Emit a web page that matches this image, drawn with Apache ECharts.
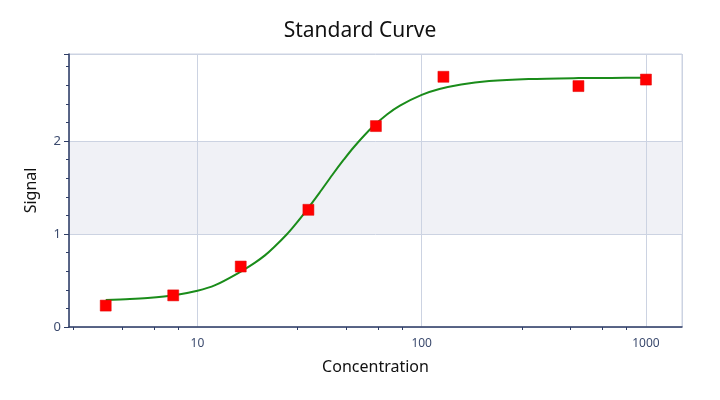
<!DOCTYPE html>
<html>
<head>
<meta charset="utf-8">
<script src="https://cdn.jsdelivr.net/npm/echarts@6/dist/echarts.min.js"></script>
<style>html,body{margin:0;padding:0;background:#fff}#c{width:720px;height:400px}</style>
</head>
<body>
<div id="c"></div>
<script>
var titleText = 'Standard Curve';
var xName = 'Concentration';
var yName = 'Signal';
// measured standards
var concentrations = [3.9, 7.8, 15.6, 31.25, 62.5, 125, 500, 1000];
var signals = [0.23, 0.34, 0.65, 1.26, 2.16, 2.69, 2.59, 2.66];
// fitted curve
var curveX = [3.9, 5, 6, 8, 10, 12, 15, 18, 20, 22, 25, 27, 30, 35, 40, 45, 50, 60, 70, 80, 100, 120, 150, 200, 300, 500, 700, 1000];
var curveY = [0.291, 0.300, 0.312, 0.345, 0.390, 0.450, 0.572, 0.690, 0.770, 0.860, 0.995, 1.088, 1.225, 1.442, 1.637, 1.801, 1.938, 2.144, 2.284, 2.380, 2.495, 2.558, 2.608, 2.644, 2.666, 2.676, 2.678, 2.679];

var pts = concentrations.map(function (c, i) { return [c, signals[i]]; });
var curve = curveX.map(function (c, i) { return [c, curveY[i]]; });

var axisCol = '#2e3d66';
var labCol = '#3b4a6e';
var gridCol = '#ccd3e2';

var chart = echarts.init(document.getElementById('c'), null, {renderer: 'canvas'});
chart.setOption({
  animation: false,
  title: {
    text: titleText, left: 'center', top: 16,
    textStyle: {fontFamily: 'Noto Sans', fontSize: 21, fontWeight: 'normal', color: '#111'}
  },
  grid: {left: 69, right: 38, top: 54, bottom: 73, show: true, borderColor: gridCol, borderWidth: 1},
  xAxis: {
    type: 'log', logBase: 10, min: 2.675, max: 1448,
    name: xName, nameLocation: 'middle', nameGap: 32,
    nameTextStyle: {fontFamily: 'Noto Sans', fontSize: 16, color: '#111'},
    axisLine: {show: true, onZero: false, lineStyle: {color: axisCol, width: 1.5}},
    axisTick: {show: false},
    minorTick: {show: true, splitNumber: 5, length: 3, lineStyle: {color: axisCol}},
    axisLabel: {color: labCol, fontFamily: 'Noto Sans', fontSize: 12, margin: 11,
      showMinLabel: false, showMaxLabel: false,
      formatter: function (v) { return String(Math.round(v)); }},
    splitLine: {show: true, lineStyle: {color: gridCol, width: 1}}
  },
  yAxis: {
    type: 'value', min: 0, max: 2.935, interval: 1,
    name: yName, nameLocation: 'middle', nameGap: 30, nameRotate: 90,
    nameTextStyle: {fontFamily: 'Noto Sans', fontSize: 16, color: '#111'},
    axisLine: {show: true, lineStyle: {color: axisCol, width: 1.5}},
    axisTick: {show: true, length: 5, lineStyle: {color: axisCol}},
    minorTick: {show: true, splitNumber: 5, length: 3, lineStyle: {color: axisCol}},
    axisLabel: {color: labCol, fontFamily: 'Noto Sans', fontSize: 13, margin: 8, showMaxLabel: false},
    splitLine: {show: true, lineStyle: {color: gridCol, width: 1}},
    splitArea: {show: true, areaStyle: {color: ['rgba(255,255,255,0)', '#f0f1f6']}}
  },
  series: [
    {
      type: 'line', data: curve, smooth: 0.3, symbol: 'none',
      lineStyle: {color: '#1a8c1a', width: 2}, z: 2
    },
    {
      type: 'scatter', data: pts, symbol: 'rect', symbolSize: 11,
      itemStyle: {color: '#ff0000', opacity: 1, borderColor: '#e00000', borderWidth: 0.5}, z: 3
    }
  ]
});
</script>
</body>
</html>
